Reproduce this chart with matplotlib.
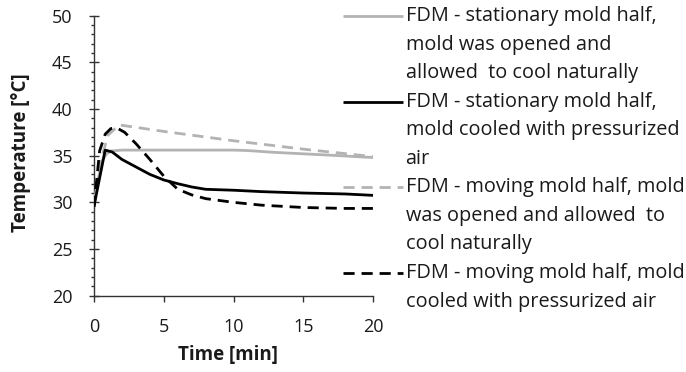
import matplotlib
matplotlib.use("Agg")
import matplotlib.pyplot as plt
from matplotlib.lines import Line2D
from matplotlib.ticker import MultipleLocator

plt.rcParams['font.family'] = ['Open Sans', 'DejaVu Sans']

# Data (time in minutes, temperature in °C)
t_stat_open = [0, 0.3, 0.6, 0.9, 1.2, 2, 4, 6, 8, 10, 11, 13, 15, 17, 20]
T_stat_open = [30.0, 32.5, 34.5, 35.2, 35.5, 35.6, 35.6, 35.6, 35.6, 35.6, 35.55, 35.35, 35.2, 35.05, 34.8]

t_stat_air = [0, 0.8, 1.3, 2, 3, 4, 5, 6, 7, 8, 10, 12, 15, 18, 20]
T_stat_air = [29.6, 35.6, 35.4, 34.6, 33.8, 33.0, 32.4, 32.0, 31.65, 31.4, 31.3, 31.15, 31.0, 30.9, 30.75]

t_mov_open = [0, 0.5, 1.0, 1.8, 5, 10, 15, 20]
T_mov_open = [29.5, 34.5, 37.2, 38.3, 37.6, 36.6, 35.7, 34.9]

t_mov_air = [0, 0.4, 0.8, 1.2, 1.6, 2.2, 3, 4, 5, 6, 7, 8, 10, 12, 15, 18, 20]
T_mov_air = [29.5, 35.5, 37.3, 37.9, 38.0, 37.5, 36.3, 34.6, 32.8, 31.4, 30.8, 30.4, 30.0, 29.7, 29.45, 29.35, 29.35]

labels = [
    "FDM - stationary mold half,\nmold was opened and\nallowed  to cool naturally",
    "FDM - stationary mold half,\nmold cooled with pressurized\nair",
    "FDM - moving mold half, mold\nwas opened and allowed  to\ncool naturally",
    "FDM - moving mold half, mold\ncooled with pressurized air",
]

x_ticks = [0, 5, 10, 15, 20]
y_ticks = [20, 25, 30, 35, 40, 45, 50]

GREY = '#b3b3b3'
TXT = '#1a1a1a'
styles = [
    dict(color=GREY, linestyle='-', lw=2.0),
    dict(color='black', linestyle='-', lw=2.0),
    dict(color=GREY, linestyle=(0, (4, 2.5)), lw=2.0),
    dict(color='black', linestyle=(0, (4, 2.5)), lw=2.0),
]
series = [(t_stat_open, T_stat_open), (t_stat_air, T_stat_air),
          (t_mov_open, T_mov_open), (t_mov_air, T_mov_air)]

W, H = 686, 372
fig = plt.figure(figsize=(W / 100, H / 100), dpi=100)
ax = fig.add_axes([94 / W, 1 - 295.7 / H, (373.3 - 94) / W, (295.7 - 15.7) / H])

draw_order = [0, 2, 3, 1]
for i in draw_order:
    x, y = series[i]
    ax.plot(x, y, solid_capstyle='butt', dash_capstyle='butt', zorder=3 + (i == 1), **styles[i])

ax.set_xlim(0, 20)
ax.set_ylim(20, 50)
ax.set_xticks(x_ticks)
ax.set_yticks(y_ticks)
ax.yaxis.set_minor_locator(MultipleLocator(1))
for s in ['top', 'right']:
    ax.spines[s].set_visible(False)
for s in ['left', 'bottom']:
    ax.spines[s].set_color('#333333')
    ax.spines[s].set_linewidth(1.0)
ax.tick_params(axis='y', which='major', direction='inout', length=7, width=1.0, color='#333333',
               labelsize=13, pad=12, labelcolor=TXT)
ax.tick_params(axis='y', which='minor', direction='out', length=2.5, width=1.0, color='#333333')
ax.tick_params(axis='x', which='major', direction='out', length=4, width=1.0, color='#333333',
               labelsize=13, pad=12, labelcolor=TXT)
ax.set_xlabel('Time [min]', fontsize=13.5, fontweight='bold', color=TXT)
ax.set_ylabel('Temperature [°C]', fontsize=13.5, fontweight='bold', color=TXT)
ax.xaxis.set_label_coords(0.48, (295.7 - 355) / 280, transform=ax.transAxes)
ax.yaxis.set_label_coords((21 - 94) / (373.3 - 94), (295.7 - 153) / 280, transform=ax.transAxes)
ax.xaxis.label.set_va('center')
ax.yaxis.label.set_va('center')
ax.patch.set_alpha(0)

# Manual legend: handle aligned with first text line
line_pitch = 28.55
y0 = 16.0
k = 0
for i, lab in enumerate(labels):
    yc = y0 + k * line_pitch
    fig.add_artist(Line2D([343 / W, 403 / W], [1 - yc / H, 1 - yc / H],
                          transform=fig.transFigure, solid_capstyle='butt',
                          dash_capstyle='butt', **styles[i]))
    for j, part in enumerate(lab.split('\n')):
        yy = y0 + (k + j) * line_pitch
        fig.text(405.5 / W, 1 - yy / H, part, fontsize=14.3, va='center', ha='left', color=TXT)
    k += len(lab.split('\n'))

fig.savefig('out.png', dpi=100)
